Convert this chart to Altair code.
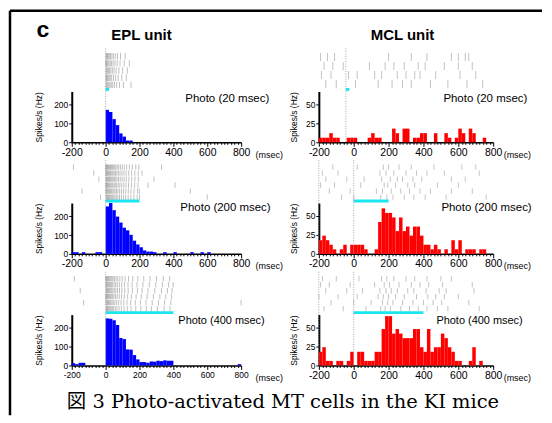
import altair as alt
import pandas as pd

# ---------------- data ----------------
BIN_STARTS = list(range(-200, 800, 20))  # 20 ms bins, -200 .. 780
BIN_WIDTH = 20

EPL_20 = [0, 0, 0, 0, 0, 0, 0, 0, 0, 0,
          172, 161, 123, 91, 47, 30, 9, 9, 0, 0,
          0, 0, 0, 0, 0, 0, 0, 0, 0, 0,
          0, 0, 0, 0, 0, 0, 0, 0, 0, 0,
          0, 0, 0, 0, 0, 0, 0, 0, 0, 0]
EPL_200 = [9, 9, 0, 9, 0, 0, 0, 9, 9, 0,
           252, 270, 232, 198, 166, 139, 125, 101, 70, 50,
           35, 18, 12, 12, 9, 0, 0, 9, 0, 0,
           9, 0, 0, 0, 0, 9, 0, 0, 9, 0,
           9, 0, 0, 0, 0, 0, 0, 0, 0, 0]
EPL_400 = [12, 7, 14, 14, 0, 0, 0, 0, 0, 0,
           250, 248, 240, 215, 146, 140, 85, 84, 55, 32,
           18, 18, 14, 21, 20, 25, 23, 27, 25, 25,
           0, 0, 0, 0, 0, 0, 0, 0, 0, 0,
           0, 0, 0, 0, 0, 0, 0, 0, 0, 7]
MCL_20 = [6, 6, 6, 12, 6, 6, 0, 0, 6, 6,
          6, 0, 0, 0, 6, 12, 6, 6, 0, 0,
          0, 18, 12, 0, 18, 18, 0, 6, 6, 12,
          12, 0, 0, 12, 0, 0, 12, 6, 0, 6,
          18, 12, 0, 18, 12, 0, 0, 6, 0, 0]
MCL_200 = [18, 24, 18, 12, 6, 0, 6, 12, 0, 12,
           12, 12, 12, 6, 0, 0, 6, 42, 60, 54,
           54, 48, 30, 48, 30, 36, 24, 36, 36, 24,
           12, 12, 6, 12, 6, 0, 6, 0, 18, 6,
           18, 0, 6, 6, 6, 0, 6, 6, 0, 0]
MCL_400 = [18, 24, 6, 6, 0, 6, 6, 0, 6, 18,
           0, 18, 18, 6, 6, 6, 18, 18, 48, 65,
           65, 42, 48, 42, 36, 36, 36, 48, 48, 24,
           18, 48, 18, 24, 24, 42, 36, 24, 18, 6,
           6, 0, 0, 6, 24, 0, 6, 0, 0, 0]

# spike rasters (ms), one list per trial, top trial first
RASTER_EPL_20 = [
    [2, 6, 11, 16, 22, 29, 37, 46, 57, 70, 88, 115],
    [1, 5, 9, 14, 20, 27, 35, 44, 55, 68, 85, 110, 140],
    [3, 7, 12, 18, 24, 31, 40, 50, 62, 78, 100, 128],
    [2, 6, 10, 15, 21, 28, 36, 47, 59, 74, 95, 122],
    [4, 8, 13, 19, 26, 33, 42, 52, 65, 82, 105, 150],
]
RASTER_EPL_200 = [
    [-190, 1, 4, 7, 11, 15, 19, 24, 29, 34, 40, 46, 53, 60, 68, 77, 87, 98, 110, 124, 140, 158, 178, 196, 330],
    [-70, 2, 5, 9, 13, 17, 22, 27, 32, 38, 44, 51, 58, 66, 75, 85, 96, 108, 121, 136, 153, 172, 192, 215],
    [-40, 3, 6, 10, 14, 18, 23, 28, 33, 39, 45, 52, 59, 67, 76, 86, 97, 109, 122, 137, 154, 173, 193, 285],
    [1, 5, 8, 12, 16, 21, 26, 31, 37, 43, 50, 57, 65, 74, 84, 95, 107, 120, 135, 152, 171, 191, 250, 410],
    [-140, 2, 6, 9, 13, 18, 23, 29, 35, 42, 49, 56, 64, 73, 83, 94, 106, 119, 134, 150, 168, 188, 199, 500],
    [-30, 4, 8, 12, 17, 22, 28, 34, 41, 48, 55, 63, 72, 82, 93, 105, 118, 133, 149, 167, 186, 200, 600],
]
RASTER_EPL_400 = [
    [-185, 1, 4, 8, 12, 16, 21, 26, 32, 38, 45, 53, 62, 72, 84, 98, 115, 135, 160, 190, 225, 262, 300, 340, 378],
    [2, 5, 9, 13, 18, 23, 29, 35, 42, 50, 59, 69, 81, 95, 112, 132, 156, 185, 220, 258, 296, 335, 372, 398],
    [-150, 3, 6, 10, 14, 19, 24, 30, 36, 43, 51, 60, 70, 82, 96, 113, 133, 158, 188, 215, 250, 290, 330, 365, 392],
    [1, 5, 8, 12, 17, 22, 28, 34, 41, 49, 58, 68, 80, 94, 110, 130, 152, 180, 210, 245, 282, 320, 355, 388],
    [-130, 2, 6, 11, 15, 20, 25, 31, 38, 46, 55, 65, 77, 91, 107, 126, 148, 175, 205, 238, 275, 312, 348, 385, 800],
    [4, 7, 11, 16, 21, 27, 33, 40, 48, 57, 67, 79, 93, 109, 128, 150, 178, 208, 240, 270, 305, 345, 380],
]
RASTER_MCL_20 = [
    [-190, -150, -110, 200, 330, 420, 560, 600, 640, 660],
    [-170, -120, -60, 90, 180, 230, 290, 370, 410, 520, 600, 680],
    [-185, -130, -30, 20, 120, 160, 250, 300, 350, 380, 470, 610, 700],
    [-160, -100, 10, 140, 220, 280, 330, 440, 540, 650, 740],
]
RASTER_MCL_200 = [
    [-120, 20, 170, 200, 260, 330, 460, 620, 700],
    [-180, -90, 150, 185, 230, 300, 360, 420, 520, 720],
    [-160, -40, 60, 160, 210, 250, 280, 340, 390, 560, 640],
    [-190, -110, 40, 175, 195, 240, 310, 350, 480, 600],
    [-140, -20, 130, 165, 215, 270, 320, 380, 440, 560, 680],
    [-70, 0, 155, 190, 225, 290, 345, 410, 530, 760],
]
RASTER_MCL_400 = [
    [-180, -100, 30, 160, 190, 230, 300, 350, 420, 500, 560],
    [-190, -140, -20, 120, 175, 205, 260, 330, 380, 430, 510, 680],
    [-160, -40, 50, 150, 185, 215, 250, 310, 345, 415, 490, 530, 690],
    [-200, -90, 20, 140, 170, 200, 240, 290, 360, 425, 470, 520, 600],
    [-130, 0, 100, 165, 195, 225, 280, 340, 400, 455, 505, 660],
    [-170, -60, 70, 155, 180, 210, 270, 320, 370, 420, 480, 540, 720],
]

# ---------------- layout constants ----------------
PANEL_H = 94
HIST_TOP = 43
TICK_VALUES = list(range(-200, 801, 20))
FONT = "Liberation Sans"


def xenc(field, width, lab_size, unit_pad):
    return alt.X(
        field, type="quantitative",
        scale=alt.Scale(domain=[-200, 800], nice=False, zero=False),
        axis=alt.Axis(
            values=TICK_VALUES,
            labelExpr="datum.value % 200 === 0 ? '' + datum.value : ''",
            tickSize={"condition": {"test": "datum.value % 200 === 0", "value": 4}, "value": 2},
            labelOverlap=False, labelFlush=False, labelFontSize=lab_size,
            labelPadding=1, labelColor="black",
            title="(msec)", titleX=width + unit_pad, titleY=12, titleAlign="left",
            titleBaseline="middle", titleFontSize=9, titleFontWeight="normal",
            titleColor="black", grid=False, domainColor="black", domainWidth=1.5,
            tickColor="black", tickWidth=1,
        ),
    )


def panel(hist, ymax, yvals, color, width, lab_size, unit_pad, title_x,
          onset, stim_len, raster, ras_color, ras_opacity,
          photo, photo_x, photo_y, photo_size,
          extra_dotted=None, extra_layers=None):
    hdf = pd.DataFrame({"ms": BIN_STARTS, "rate": hist})
    hdf["ms_end"] = hdf["ms"] + BIN_WIDTH
    hdf = hdf[hdf["rate"] > 0]

    bars = alt.Chart(hdf).mark_rect(color=color).encode(
        x=xenc("ms", width, lab_size, unit_pad),
        x2="ms_end",
        y=alt.Y("rate:Q",
                scale=alt.Scale(domain=[0, ymax], range=[PANEL_H, HIST_TOP], nice=False, zero=True),
                axis=alt.Axis(values=yvals, tickSize=3, labelFontSize=8.5, labelPadding=1,
                              labelColor="black", domainWidth=2, domainColor="black",
                              tickColor="black", title="Spikes/s (Hz)", titleFontSize=8.5,
                              titleFontWeight="normal", titleColor="black",
                              titleX=title_x, titleY=(HIST_TOP + PANEL_H) / 2,
                              titleAngle=270, titleAlign="center", titleBaseline="bottom",
                              grid=False)),
        y2=alt.datum(0),
    )

    sdf = pd.DataFrame({"ms": [onset], "ms_end": [onset + stim_len]})
    cyan = alt.Chart(sdf).mark_rule(color="#19e6f0", strokeWidth=3).encode(
        x=xenc("ms", width, lab_size, unit_pad), x2="ms_end", y=alt.value(HIST_TOP - 2))

    dots = [onset] + (extra_dotted or [])
    ddf = pd.DataFrame({"ms": dots})
    dotted = alt.Chart(ddf).mark_rule(color="#909090", strokeDash=[1, 1.5], strokeWidth=0.8).encode(
        x=xenc("ms", width, lab_size, unit_pad), y=alt.value(0), y2=alt.value(PANEL_H))

    rows = [(i, t) for i, row in enumerate(raster) for t in row]
    rdf = pd.DataFrame(rows, columns=["trial", "ms"])
    n = len(raster)
    row_px = (HIST_TOP - 5) / n
    ras = alt.Chart(rdf).mark_tick(orient="vertical", thickness=1, size=row_px * 0.85,
                                   color=ras_color, opacity=ras_opacity).encode(
        x=xenc("ms", width, lab_size, unit_pad),
        y=alt.Y("trial:Q", scale=alt.Scale(domain=[-0.5, n - 0.5], range=[4, HIST_TOP - 3]),
                axis=None),
    )

    pdf = pd.DataFrame({"label": [photo]})
    ptxt = alt.Chart(pdf).mark_text(align="left", baseline="middle", font=FONT,
                                    fontSize=photo_size, color="black").encode(
        x=alt.value(photo_x), y=alt.value(photo_y), text="label:N")

    layers = [bars, cyan, dotted, ras, ptxt] + (extra_layers or [])
    return alt.layer(*layers).resolve_scale(y="independent").properties(
        width=width, height=PANEL_H)


# ---------- decorations (placed in the first panel) ----------
deco_df = pd.DataFrame({"c": ["c"], "epl": ["EPL unit"], "mcl": ["MCL unit"],
                        "cap": ["図 3 Photo-activated MT cells in the KI mice"]})
frame_top = alt.Chart(deco_df).mark_rule(color="black", strokeWidth=2.5).encode(
    x=alt.value(-62), x2=alt.value(472), y=alt.value(-38))
frame_left = alt.Chart(deco_df).mark_rule(color="black", strokeWidth=2.5).encode(
    x=alt.value(-62), y=alt.value(-38), y2=alt.value(368))
c_txt = alt.Chart(deco_df).mark_text(font=FONT, fontSize=23, fontWeight="bold",
                                     align="center", baseline="middle").encode(
    x=alt.value(-29), y=alt.value(-19), text="c:N")
epl_txt = alt.Chart(deco_df).mark_text(font=FONT, fontSize=15, fontWeight="bold",
                                       align="center", baseline="middle").encode(
    x=alt.value(70), y=alt.value(-14), text="epl:N")
mcl_txt = alt.Chart(deco_df).mark_text(font=FONT, fontSize=15, fontWeight="bold",
                                       align="center", baseline="middle").encode(
    x=alt.value(332), y=alt.value(-14), text="mcl:N")
cap_txt = alt.Chart(deco_df).mark_text(font="DejaVu Serif, Noto Sans CJK JP", fontSize=19.5,
                                       align="center", baseline="middle").encode(
    x=alt.value(212), y=alt.value(355), text="cap:N")

EPL_W, MCL_W = 170, 175
EPL_GRAY, MCL_GRAY = "#8c8c8c", "#b4b4b4"

p11 = panel(EPL_20, 270, [0, 100, 200], "#0000ff", EPL_W, 10.5, 14, -28,
            0, 20, RASTER_EPL_20, EPL_GRAY, 0.55, "Photo (20 msec)", 114, 51, 11.5,
            extra_layers=[frame_top, frame_left, c_txt, epl_txt, mcl_txt, cap_txt])
p12 = panel(MCL_20, 67, [0, 25, 50], "#ff0000", MCL_W, 10.5, 10, -20,
            -45, 20, RASTER_MCL_20, MCL_GRAY, 0.8, "Photo (20 msec)", 125, 51, 11.5)
p21 = panel(EPL_200, 270, [0, 100, 200], "#0000ff", EPL_W, 10.5, 14, -28,
            0, 200, RASTER_EPL_200, EPL_GRAY, 0.55, "Photo (200 msec)", 109, 48, 11.5)
p22 = panel(MCL_200, 67, [0, 25, 50], "#ff0000", MCL_W, 10.5, 10, -20,
            0, 200, RASTER_MCL_200, MCL_GRAY, 0.8, "Photo (200 msec)", 123, 48, 11.5,
            extra_dotted=[-200])
p31 = panel(EPL_400, 270, [0, 100, 200], "#0000ff", EPL_W, 8.5, 14, -28,
            0, 400, RASTER_EPL_400, EPL_GRAY, 0.55, "Photo (400 msec)", 107, 49, 11)
p32 = panel(MCL_400, 67, [0, 25, 50], "#ff0000", MCL_W, 10.5, 10, -20,
            0, 400, RASTER_MCL_400, MCL_GRAY, 0.8, "Photo (400 msec)", 118, 49, 11,
            extra_dotted=[-200])

chart = alt.concat(p11, p12, p21, p22, p31, p32, columns=2,
                   spacing={"row": 18, "column": 78}, bounds="flush").resolve_scale(
    x="independent", y="independent"
).properties(padding=0, background="white").configure_view(stroke=None).configure_axis(
    labelFont=FONT, titleFont=FONT)

chart.save("out.html", embed_options={"renderer": "svg", "actions": False})
